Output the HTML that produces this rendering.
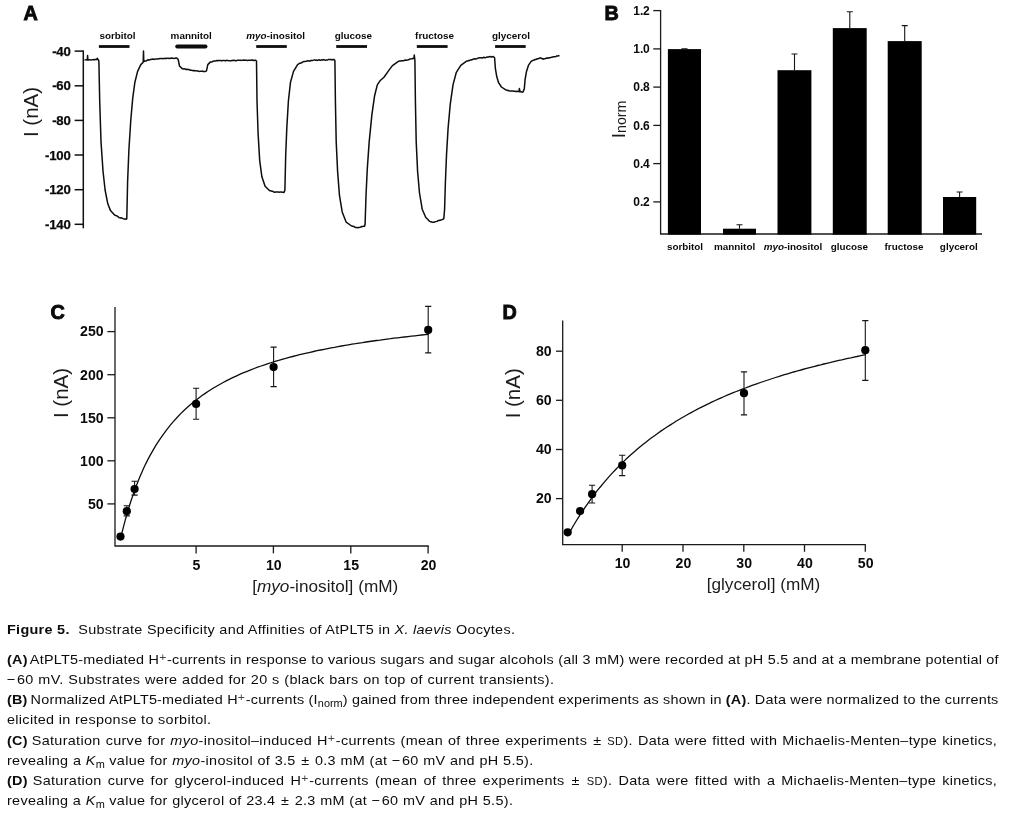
<!DOCTYPE html>
<html><head><meta charset="utf-8"><title>Figure 5</title>
<style>
html,body{margin:0;padding:0;background:#fff;}
body{width:1016px;height:814px;position:relative;overflow:hidden;font-family:"Liberation Sans", sans-serif;color:#111;}
svg{position:absolute;left:0;top:0;}
svg text{font-family:"Liberation Sans", sans-serif;fill:#0a0a0a;}
.pl{font-size:19.8px;font-weight:bold;stroke:#0a0a0a;stroke-width:0.9px;}
.ax{stroke:#1a1a1a;stroke-width:1.3;fill:none;}
.eb{stroke:#161616;stroke-width:1.1;fill:none;}
.axA{stroke:#111;stroke-width:1.5;fill:none;}
.tkA{font-size:13.2px;font-weight:bold;letter-spacing:-0.2px;stroke:#0a0a0a;stroke-width:0.25px;}
.tkB{font-size:12px;font-weight:bold;letter-spacing:-0.15px;}
.tk{font-size:14.1px;font-weight:bold;}
.sm{font-size:9.9px;font-weight:bold;}
.axl{fill:#1c1c1c;}
.cl{transform:scaleX(1.06);transform-origin:0 0;position:absolute;left:7.0px;height:20px;line-height:20px;font-size:13.6px;white-space:nowrap;color:#0c0c0c;}
.cl b.p{margin-right:-1.2px;}
.cl sup{font-size:11.5px;line-height:0;vertical-align:2.8px;color:#444;margin-right:0.5px;}
.cl sub{font-size:10.3px;line-height:0;vertical-align:-2.6px;letter-spacing:0;}
.pm{margin:0 0.9px;}
.mn{margin-right:1.2px;}
.sc{font-size:10.5px;}
</style></head><body>
<svg width="1016" height="610" viewBox="0 0 1016 610">
<text x="23.4" y="20" class="pl">A</text>
<path d="M83.3,50.4 V228.3" class="axA"/>
<path d="M74.6,51.1 H83.3" class="axA"/>
<text x="70.6" y="55.7" class="tkA" text-anchor="end">-40</text>
<path d="M74.6,85.8 H83.3" class="axA"/>
<text x="70.6" y="90.4" class="tkA" text-anchor="end">-60</text>
<path d="M74.6,120.4 H83.3" class="axA"/>
<text x="70.6" y="125.0" class="tkA" text-anchor="end">-80</text>
<path d="M74.6,155.0 H83.3" class="axA"/>
<text x="70.6" y="159.6" class="tkA" text-anchor="end">-100</text>
<path d="M74.6,189.7 H83.3" class="axA"/>
<text x="70.6" y="194.3" class="tkA" text-anchor="end">-120</text>
<path d="M74.6,224.3 H83.3" class="axA"/>
<text x="70.6" y="228.9" class="tkA" text-anchor="end">-140</text>
<text transform="translate(38.2,112) rotate(-90)" class="axl" text-anchor="middle" style="font-size:20.5px">I (nA)</text>
<path d="M84.5,60.00 L85.4,59.88 L86.4,59.76 L87.3,60.00 L87.6,55.50 L87.9,60.00 L88.9,60.06 L90.0,59.60 L91.0,59.88 L92.0,59.80 L93.0,59.67 L93.9,59.41 L94.9,59.69 L95.8,59.32 L96.8,59.60 L97.3,58.20 L97.8,59.40 L98.6,60.00 L98.9,62.00 L99.7,101.00 L101.0,141.60 L103.0,171.00 L105.1,190.00 L107.8,203.80 L110.5,210.60 L114.6,215.00 L115.5,215.44 L116.4,215.67 L117.3,216.16 L118.2,216.88 L119.1,217.65 L120.0,217.90 L121.0,217.85 L122.1,218.14 L123.1,218.64 L124.1,219.08 L125.2,219.04 L126.2,219.20 L126.8,218.70 L127.6,182.00 L128.9,149.70 L130.8,120.00 L132.7,98.40 L134.9,82.20 L137.6,71.40 L140.8,64.60 L143.2,62.20 L143.5,51.00 L143.8,61.60 L144.9,61.09 L145.9,61.07 L147.0,60.30 L148.0,59.78 L149.0,60.15 L150.0,59.55 L151.0,59.50 L151.9,59.18 L152.8,59.09 L153.7,59.15 L154.6,59.43 L155.5,58.91 L156.4,59.12 L157.3,59.08 L158.3,58.82 L159.2,58.87 L160.1,58.46 L161.0,58.39 L161.9,58.41 L162.8,58.67 L163.7,58.42 L164.6,58.40 L165.5,58.25 L166.5,58.41 L167.4,58.30 L168.4,58.17 L169.3,58.49 L170.2,58.40 L171.2,58.06 L172.1,58.27 L173.0,58.21 L174.0,58.43 L174.9,58.31 L175.9,57.97 L176.8,58.10 L178.1,59.20 L179.5,66.00 L182.2,68.60 L183.1,69.11 L184.1,68.67 L185.0,69.05 L186.0,69.46 L186.9,69.21 L187.8,69.61 L188.8,69.47 L189.7,70.08 L190.7,70.32 L191.6,70.30 L192.5,70.44 L193.4,70.74 L194.3,70.43 L195.2,70.78 L196.1,70.80 L197.0,70.88 L197.9,70.88 L198.8,71.23 L199.7,71.39 L200.6,71.15 L201.5,71.37 L202.4,71.03 L203.3,71.57 L204.2,71.62 L205.1,71.60 L206.5,70.80 L207.8,64.60 L210.5,61.90 L211.4,62.06 L212.3,61.76 L213.2,61.20 L214.2,61.09 L215.1,61.10 L216.0,60.80 L216.9,60.45 L217.9,60.74 L218.8,60.51 L219.8,60.46 L220.7,60.40 L221.6,60.88 L222.6,60.42 L223.5,60.48 L224.5,60.56 L225.4,60.88 L226.4,60.31 L227.3,60.55 L228.2,60.61 L229.2,60.82 L230.1,60.76 L231.1,60.77 L232.0,60.50 L232.9,60.33 L233.8,60.41 L234.7,60.35 L235.6,60.71 L236.6,60.74 L237.5,60.16 L238.4,60.17 L239.3,60.19 L240.2,60.17 L241.1,60.34 L242.0,60.39 L242.9,60.15 L243.8,59.95 L244.8,60.23 L245.7,60.18 L246.6,60.30 L247.5,60.56 L248.4,60.36 L249.3,60.22 L250.2,60.27 L251.1,60.30 L252.1,59.85 L253.0,60.43 L253.9,60.33 L254.8,60.38 L255.7,60.10 L256.5,61.10 L257.0,101.00 L258.1,133.50 L259.7,160.60 L261.9,176.80 L265.1,186.20 L269.2,190.30 L270.1,190.83 L271.0,190.86 L271.9,191.18 L272.8,191.29 L273.7,191.98 L274.6,192.20 L275.5,191.92 L276.5,191.96 L277.4,192.09 L278.4,192.08 L279.3,192.24 L280.2,192.07 L281.2,192.06 L282.1,192.20 L283.1,192.19 L284.0,192.50 L284.9,190.30 L285.7,155.20 L286.8,128.10 L288.4,101.00 L290.5,82.20 L293.5,71.40 L297.6,64.60 L298.7,63.96 L299.8,63.19 L300.8,63.24 L301.9,62.52 L303.0,61.90 L304.0,61.48 L305.0,61.38 L306.0,61.27 L307.0,61.10 L308.0,60.76 L309.0,61.09 L310.0,61.02 L311.0,60.50 L311.9,60.44 L312.8,60.41 L313.8,60.09 L314.7,60.06 L315.6,60.19 L316.5,60.10 L317.4,60.45 L318.4,59.94 L319.3,59.81 L320.2,60.42 L321.1,60.08 L322.0,59.77 L323.0,60.01 L323.9,59.61 L324.8,59.92 L325.7,60.19 L326.6,60.07 L327.6,59.92 L328.5,59.57 L329.4,59.61 L330.3,59.43 L331.2,59.81 L332.2,59.60 L333.1,59.74 L334.0,59.50 L334.9,60.50 L335.4,101.00 L336.2,141.60 L337.6,171.40 L339.5,195.70 L342.2,211.90 L346.2,222.20 L351.6,226.00 L352.7,226.20 L353.8,226.45 L354.8,227.18 L355.9,227.62 L357.0,227.60 L357.9,227.67 L358.9,227.46 L359.9,227.30 L360.8,227.07 L361.8,226.53 L362.7,226.56 L363.7,226.27 L364.6,226.20 L365.1,224.00 L366.0,195.70 L367.3,168.60 L369.2,141.60 L371.9,114.60 L374.6,95.70 L377.3,84.90 L380.0,80.80 L384.0,77.30 L388.1,71.40 L392.2,65.90 L397.6,61.90 L398.6,61.33 L399.6,61.09 L400.6,61.03 L401.6,60.78 L402.7,60.85 L403.7,60.79 L404.7,60.20 L405.7,60.00 L406.6,60.15 L407.5,60.03 L408.4,59.85 L409.3,59.28 L410.2,59.03 L411.1,58.88 L412.0,58.70 L412.9,58.55 L413.8,58.60 L414.3,55.10 L414.9,60.50 L415.4,101.00 L416.2,141.60 L417.6,171.40 L419.5,193.00 L422.2,209.20 L425.7,217.30 L429.7,221.40 L430.7,221.69 L431.8,222.08 L432.8,222.24 L433.8,222.20 L434.9,221.85 L436.0,221.63 L437.0,221.39 L438.1,220.55 L439.2,220.50 L440.1,220.25 L441.0,220.07 L442.0,219.62 L442.9,219.24 L443.8,218.70 L444.6,209.20 L445.4,182.20 L446.5,155.10 L448.1,128.10 L450.3,103.80 L453.0,84.90 L456.2,72.70 L460.8,65.40 L466.2,61.40 L467.2,61.07 L468.1,60.55 L469.1,60.66 L470.1,60.03 L471.1,60.04 L472.0,59.84 L473.0,59.20 L474.0,58.95 L475.0,58.78 L476.0,58.99 L477.0,58.66 L478.0,58.09 L479.0,57.89 L480.0,57.73 L481.0,57.80 L481.9,57.98 L482.9,57.81 L483.8,57.25 L484.8,57.63 L485.7,57.64 L486.6,57.31 L487.6,57.00 L488.5,57.03 L489.4,56.64 L490.4,56.46 L491.3,57.03 L492.3,56.70 L493.2,56.50 L494.6,57.80 L495.4,68.60 L496.8,76.80 L498.6,82.70 L501.4,87.00 L505.4,89.70 L506.3,89.95 L507.2,90.47 L508.1,90.35 L509.0,90.89 L509.9,91.09 L510.8,91.10 L511.8,90.96 L512.8,91.05 L513.8,91.14 L514.9,91.17 L515.9,91.47 L516.9,91.31 L517.9,91.48 L518.9,91.60 L519.4,88.60 L519.9,91.80 L520.9,91.58 L522.0,92.15 L523.0,91.90 L524.3,88.90 L525.1,79.50 L526.5,71.40 L528.4,65.40 L531.1,61.40 L532.1,60.82 L533.1,60.42 L534.1,60.03 L535.1,59.50 L536.2,59.44 L537.3,58.76 L538.3,58.77 L539.4,58.14 L540.5,57.80 L541.4,58.29 L542.3,58.75 L543.2,59.20 L544.1,58.65 L545.0,58.74 L545.9,58.34 L546.8,58.01 L547.8,58.35 L548.7,57.70 L549.6,57.70 L550.5,57.67 L551.4,57.30 L552.3,57.16 L553.2,56.82 L554.1,56.78 L555.0,56.63 L555.9,56.61 L556.8,55.96 L557.7,56.10 L558.6,55.70 L559.5,55.70" fill="none" stroke="#0d0d0d" stroke-width="1.5" stroke-linejoin="round"/>
<path d="M98.9,46.5 H129.5" stroke="#0d0d0d" stroke-width="2.8" stroke-linecap="butt"/>
<text x="117.5" y="39.0" class="sm" text-anchor="middle">sorbitol</text>
<path d="M177.2,46.5 H205.5" stroke="#0d0d0d" stroke-width="3.9" stroke-linecap="round"/>
<text x="191.2" y="39.0" class="sm" text-anchor="middle">mannitol</text>
<path d="M256.2,46.5 H286.8" stroke="#0d0d0d" stroke-width="2.8" stroke-linecap="butt"/>
<text x="275.7" y="39.0" class="sm" text-anchor="middle"><tspan font-style="italic">myo</tspan>-inositol</text>
<path d="M336.2,46.5 H367" stroke="#0d0d0d" stroke-width="2.8" stroke-linecap="butt"/>
<text x="353.4" y="39.0" class="sm" text-anchor="middle">glucose</text>
<path d="M416.8,46.5 H447.6" stroke="#0d0d0d" stroke-width="2.8" stroke-linecap="butt"/>
<text x="434.6" y="39.0" class="sm" text-anchor="middle">fructose</text>
<path d="M495.1,46.5 H525.7" stroke="#0d0d0d" stroke-width="2.8" stroke-linecap="butt"/>
<text x="511" y="39.0" class="sm" text-anchor="middle">glycerol</text>
<text x="604.6" y="19.8" class="pl">B</text>
<path d="M660.6,10 V234 H982" class="ax" fill="none"/>
<path d="M653.3,10.6 H660.6" class="ax"/>
<text x="649.6" y="14.9" class="tkB" text-anchor="end">1.2</text>
<path d="M653.3,48.9 H660.6" class="ax"/>
<text x="649.6" y="53.2" class="tkB" text-anchor="end">1.0</text>
<path d="M653.3,87.1 H660.6" class="ax"/>
<text x="649.6" y="91.4" class="tkB" text-anchor="end">0.8</text>
<path d="M653.3,125.4 H660.6" class="ax"/>
<text x="649.6" y="129.7" class="tkB" text-anchor="end">0.6</text>
<path d="M653.3,163.6 H660.6" class="ax"/>
<text x="649.6" y="167.9" class="tkB" text-anchor="end">0.4</text>
<path d="M653.3,201.9 H660.6" class="ax"/>
<text x="649.6" y="206.2" class="tkB" text-anchor="end">0.2</text>
<rect x="667.9" y="49.1" width="33.1" height="185.5" fill="#000"/>
<path d="M681.5,48.8 H687.5" class="eb"/>
<text x="685" y="250" class="sm" text-anchor="middle">sorbitol</text>
<rect x="723" y="228.7" width="33.0" height="5.9" fill="#000"/>
<path d="M739.5,228.7 V224.7 M736.5,224.7 H742.5" class="eb"/>
<text x="734.6" y="250" class="sm" text-anchor="middle">mannitol</text>
<rect x="777.5" y="70.2" width="33.9" height="164.4" fill="#000"/>
<path d="M794.5,70.2 V54 M791.5,54 H797.5" class="eb"/>
<text x="793" y="250" class="sm" text-anchor="middle"><tspan font-style="italic">myo</tspan>-inositol</text>
<rect x="832.8" y="28.1" width="33.9" height="206.5" fill="#000"/>
<path d="M849.8,28.1 V11.7 M846.8,11.7 H852.8" class="eb"/>
<text x="849.3" y="250" class="sm" text-anchor="middle">glucose</text>
<rect x="887.7" y="41.1" width="34.0" height="193.5" fill="#000"/>
<path d="M904.7,41.1 V25.6 M901.7,25.6 H907.7" class="eb"/>
<text x="904" y="250" class="sm" text-anchor="middle">fructose</text>
<rect x="943" y="197" width="33.2" height="37.6" fill="#000"/>
<path d="M959.6,197 V192 M956.6,192 H962.6" class="eb"/>
<text x="958.8" y="250" class="sm" text-anchor="middle">glycerol</text>
<text transform="translate(625.4,138.2) rotate(-90)" class="axl" style="font-size:19px">I<tspan dy="0.6" style="font-size:14.2px">norm</tspan></text>
<text x="50.6" y="319.4" class="pl">C</text>
<path d="M115,307 V546 H428.8" class="ax" fill="none"/>
<path d="M107.4,503.9 H115" class="ax"/>
<text x="103.6" y="508.7" class="tk" text-anchor="end">50</text>
<path d="M107.4,460.8 H115" class="ax"/>
<text x="103.6" y="465.6" class="tk" text-anchor="end">100</text>
<path d="M107.4,417.8 H115" class="ax"/>
<text x="103.6" y="422.6" class="tk" text-anchor="end">150</text>
<path d="M107.4,374.7 H115" class="ax"/>
<text x="103.6" y="379.5" class="tk" text-anchor="end">200</text>
<path d="M107.4,331.6 H115" class="ax"/>
<text x="103.6" y="336.4" class="tk" text-anchor="end">250</text>
<path d="M196.1,546 V553.4" class="ax"/>
<text x="196.5" y="569.6" class="tk" text-anchor="middle">5</text>
<path d="M273.4,546 V553.4" class="ax"/>
<text x="273.8" y="569.6" class="tk" text-anchor="middle">10</text>
<path d="M350.8,546 V553.4" class="ax"/>
<text x="351.2" y="569.6" class="tk" text-anchor="middle">15</text>
<path d="M428.1,546 V553.4" class="ax"/>
<text x="428.5" y="569.6" class="tk" text-anchor="middle">20</text>
<text transform="translate(68.4,393) rotate(-90)" class="axl" text-anchor="middle" style="font-size:20.5px">I (nA)</text>
<text x="325.2" y="591.8" class="axl" text-anchor="middle" style="font-size:17.2px">[<tspan font-style="italic">myo</tspan>-inositol] (mM)</text>
<path d="M120.3,540.0 L121.8,533.5 L123.4,527.2 L124.9,521.3 L126.5,515.7 L128.0,510.4 L129.6,505.3 L131.1,500.5 L132.7,495.9 L134.2,491.5 L135.8,487.2 L137.3,483.2 L138.9,479.3 L140.4,475.6 L142.0,472.0 L143.5,468.6 L145.0,465.3 L146.6,462.1 L148.1,459.1 L149.7,456.1 L152.8,450.6 L156.3,444.7 L159.8,439.3 L163.3,434.3 L166.8,429.6 L170.3,425.2 L173.8,421.1 L177.3,417.2 L180.7,413.6 L184.2,410.2 L187.7,407.0 L191.2,404.0 L194.7,401.1 L198.2,398.4 L201.7,395.8 L205.2,393.4 L208.7,391.0 L212.2,388.8 L215.7,386.7 L219.2,384.7 L222.7,382.7 L226.2,380.9 L229.7,379.1 L233.2,377.4 L236.7,375.8 L240.2,374.2 L243.7,372.7 L247.2,371.3 L250.7,369.9 L254.2,368.5 L257.6,367.2 L261.1,366.0 L264.6,364.8 L268.1,363.6 L271.6,362.5 L275.1,361.4 L278.6,360.4 L282.1,359.3 L285.6,358.4 L289.1,357.4 L292.6,356.5 L296.1,355.6 L299.6,354.7 L303.1,353.9 L306.6,353.1 L310.1,352.3 L313.6,351.5 L317.1,350.7 L320.6,350.0 L324.1,349.3 L327.6,348.6 L331.1,347.9 L334.5,347.3 L338.0,346.6 L341.5,346.0 L345.0,345.4 L348.5,344.8 L352.0,344.2 L355.5,343.7 L359.0,343.1 L362.5,342.6 L366.0,342.0 L369.5,341.5 L373.0,341.0 L376.5,340.5 L380.0,340.1 L383.5,339.6 L387.0,339.1 L390.5,338.7 L394.0,338.2 L397.5,337.8 L401.0,337.4 L404.5,337.0 L408.0,336.6 L411.4,336.2 L414.9,335.8 L418.4,335.4 L421.9,335.0 L425.4,334.6 L428.9,334.3" fill="none" stroke="#0d0d0d" stroke-width="1.3"/>
<circle cx="120.5" cy="536.6" r="4.1" fill="#000"/>
<path d="M126.8,505.7 V515.9 M123.7,505.7 H129.9 M123.7,515.9 H129.9" class="eb"/>
<circle cx="126.8" cy="511.2" r="4.1" fill="#000"/>
<path d="M134.6,481.3 V495.1 M131.5,481.3 H137.7 M131.5,495.1 H137.7" class="eb"/>
<circle cx="134.6" cy="489" r="4.1" fill="#000"/>
<path d="M196.1,388.3 V419.3 M193.0,388.3 H199.2 M193.0,419.3 H199.2" class="eb"/>
<circle cx="196.1" cy="403.9" r="4.1" fill="#000"/>
<path d="M273.6,347.1 V386.6 M270.5,347.1 H276.70000000000005 M270.5,386.6 H276.70000000000005" class="eb"/>
<circle cx="273.6" cy="367.1" r="4.1" fill="#000"/>
<path d="M428.2,306.4 V352.9 M425.09999999999997,306.4 H431.3 M425.09999999999997,352.9 H431.3" class="eb"/>
<circle cx="428.2" cy="329.9" r="4.1" fill="#000"/>
<text x="502.4" y="319.4" class="pl">D</text>
<path d="M562.7,320.5 V544.7 H865.8" class="ax" fill="none"/>
<path d="M556,498.6 H562.7" class="ax"/>
<text x="551.6" y="503.4" class="tk" text-anchor="end">20</text>
<path d="M556,449.5 H562.7" class="ax"/>
<text x="551.6" y="454.3" class="tk" text-anchor="end">40</text>
<path d="M556,400.3 H562.7" class="ax"/>
<text x="551.6" y="405.1" class="tk" text-anchor="end">60</text>
<path d="M556,351.2 H562.7" class="ax"/>
<text x="551.6" y="356.0" class="tk" text-anchor="end">80</text>
<path d="M622.2,544.7 V551.8" class="ax"/>
<text x="622.6" y="568.4" class="tk" text-anchor="middle">10</text>
<path d="M683.0,544.7 V551.8" class="ax"/>
<text x="683.4" y="568.4" class="tk" text-anchor="middle">20</text>
<path d="M743.8,544.7 V551.8" class="ax"/>
<text x="744.2" y="568.4" class="tk" text-anchor="middle">30</text>
<path d="M804.5,544.7 V551.8" class="ax"/>
<text x="804.9" y="568.4" class="tk" text-anchor="middle">40</text>
<path d="M865.3,544.7 V551.8" class="ax"/>
<text x="865.7" y="568.4" class="tk" text-anchor="middle">50</text>
<text transform="translate(519.6,393.3) rotate(-90)" class="axl" text-anchor="middle" style="font-size:20.5px">I (nA)</text>
<text x="763.5" y="590.3" class="axl" text-anchor="middle" style="font-size:17.2px">[glycerol] (mM)</text>
<path d="M567.5,536.1 L570.5,530.7 L573.5,525.5 L576.5,520.5 L579.6,515.7 L582.6,511.1 L585.6,506.6 L588.6,502.3 L591.6,498.1 L594.6,494.1 L597.6,490.2 L600.7,486.5 L603.7,482.9 L606.7,479.3 L609.7,475.9 L612.7,472.6 L615.7,469.5 L618.7,466.4 L621.8,463.3 L624.8,460.4 L627.8,457.6 L630.8,454.8 L633.8,452.2 L636.8,449.6 L639.8,447.0 L642.9,444.6 L645.9,442.2 L648.9,439.8 L651.9,437.6 L654.9,435.4 L657.9,433.2 L660.9,431.1 L664.0,429.0 L667.0,427.0 L670.0,425.1 L673.0,423.2 L676.0,421.3 L679.0,419.5 L682.0,417.7 L685.1,416.0 L688.1,414.3 L691.1,412.6 L694.1,411.0 L697.1,409.4 L700.1,407.8 L703.1,406.3 L706.2,404.8 L709.2,403.4 L712.2,401.9 L715.2,400.5 L718.2,399.2 L721.2,397.8 L724.2,396.5 L727.3,395.2 L730.3,393.9 L733.3,392.7 L736.3,391.5 L739.3,390.3 L742.3,389.1 L745.4,388.0 L748.4,386.8 L751.4,385.7 L754.4,384.6 L757.4,383.6 L760.4,382.5 L763.4,381.5 L766.5,380.5 L769.5,379.5 L772.5,378.5 L775.5,377.5 L778.5,376.6 L781.5,375.6 L784.5,374.7 L787.6,373.8 L790.6,372.9 L793.6,372.0 L796.6,371.2 L799.6,370.3 L802.6,369.5 L805.6,368.7 L808.7,367.9 L811.7,367.1 L814.7,366.3 L817.7,365.5 L820.7,364.8 L823.7,364.0 L826.7,363.3 L829.8,362.6 L832.8,361.8 L835.8,361.1 L838.8,360.4 L841.8,359.8 L844.8,359.1 L847.8,358.4 L850.9,357.8 L853.9,357.1 L856.9,356.5 L859.9,355.8 L862.9,355.2 L865.9,354.6" fill="none" stroke="#0d0d0d" stroke-width="1.3"/>
<circle cx="567.7" cy="532.3" r="4.1" fill="#000"/>
<circle cx="580.1" cy="511" r="4.1" fill="#000"/>
<path d="M592.1,485.3 V503 M589.0,485.3 H595.2 M589.0,503 H595.2" class="eb"/>
<circle cx="592.1" cy="494.2" r="4.1" fill="#000"/>
<path d="M622.2,455.2 V475.6 M619.1,455.2 H625.3000000000001 M619.1,475.6 H625.3000000000001" class="eb"/>
<circle cx="622.2" cy="465.4" r="4.1" fill="#000"/>
<path d="M744,371.9 V414.9 M740.9,371.9 H747.1 M740.9,414.9 H747.1" class="eb"/>
<circle cx="744" cy="393.2" r="4.1" fill="#000"/>
<path d="M865.3,320.6 V380.4 M862.1999999999999,320.6 H868.4 M862.1999999999999,380.4 H868.4" class="eb"/>
<circle cx="865.3" cy="350.2" r="4.1" fill="#000"/>
</svg>
<div class="cl" id="l0" style="top:619.6px;letter-spacing:0.279px;word-spacing:0.000px"><span class="in"><b>Figure 5.</b>&nbsp; Substrate Specificity and Affinities of AtPLT5 in <i>X. laevis</i> Oocytes.</span></div>
<div class="cl" id="l1" style="top:649.6px;letter-spacing:0.210px;word-spacing:0.000px"><span class="in"><b class="p">(A)</b> AtPLT5-mediated H<sup>+</sup>-currents in response to various sugars and sugar alcohols (all 3 mM) were recorded at pH 5.5 and at a membrane potential of</span></div>
<div class="cl" id="l2" style="top:669.6px;letter-spacing:0.300px;word-spacing:0.310px"><span class="in"><span class="mn">−</span>60 mV. Substrates were added for 20 s (black bars on top of current transients).</span></div>
<div class="cl" id="l3" style="top:689.6px;letter-spacing:0.193px;word-spacing:0.000px"><span class="in"><b class="p">(B)</b> Normalized AtPLT5-mediated H<sup>+</sup>-currents (I<sub>norm</sub>) gained from three independent experiments as shown in <b>(A)</b>. Data were normalized to the currents</span></div>
<div class="cl" id="l4" style="top:709.6px;letter-spacing:0.300px;word-spacing:0.020px"><span class="in">elicited in response to sorbitol.</span></div>
<div class="cl" id="l5" style="top:730.6px;letter-spacing:0.300px;word-spacing:0.673px"><span class="in"><b class="p">(C)</b> Saturation curve for <i>myo</i>-inositol–induced H<sup>+</sup>-currents (mean of three experiments <span class="pm">±</span> <span class="sc">SD</span>). Data were fitted with Michaelis-Menten–type kinetics,</span></div>
<div class="cl" id="l6" style="top:750.6px;letter-spacing:0.300px;word-spacing:0.211px"><span class="in">revealing a <i>K</i><sub>m</sub> value for <i>myo</i>-inositol of 3.5 <span class="pm">±</span> 0.3 mM (at <span class="mn">−</span>60 mV and pH 5.5).</span></div>
<div class="cl" id="l7" style="top:770.6px;letter-spacing:0.300px;word-spacing:1.635px"><span class="in"><b class="p">(D)</b> Saturation curve for glycerol-induced H<sup>+</sup>-currents (mean of three experiments <span class="pm">±</span> <span class="sc">SD</span>). Data were fitted with a Michaelis-Menten–type kinetics,</span></div>
<div class="cl" id="l8" style="top:790.6px;letter-spacing:0.300px;word-spacing:0.204px"><span class="in">revealing a <i>K</i><sub>m</sub> value for glycerol of 23.4 <span class="pm">±</span> 2.3 mM (at <span class="mn">−</span>60 mV and pH 5.5).</span></div>
</body></html>
